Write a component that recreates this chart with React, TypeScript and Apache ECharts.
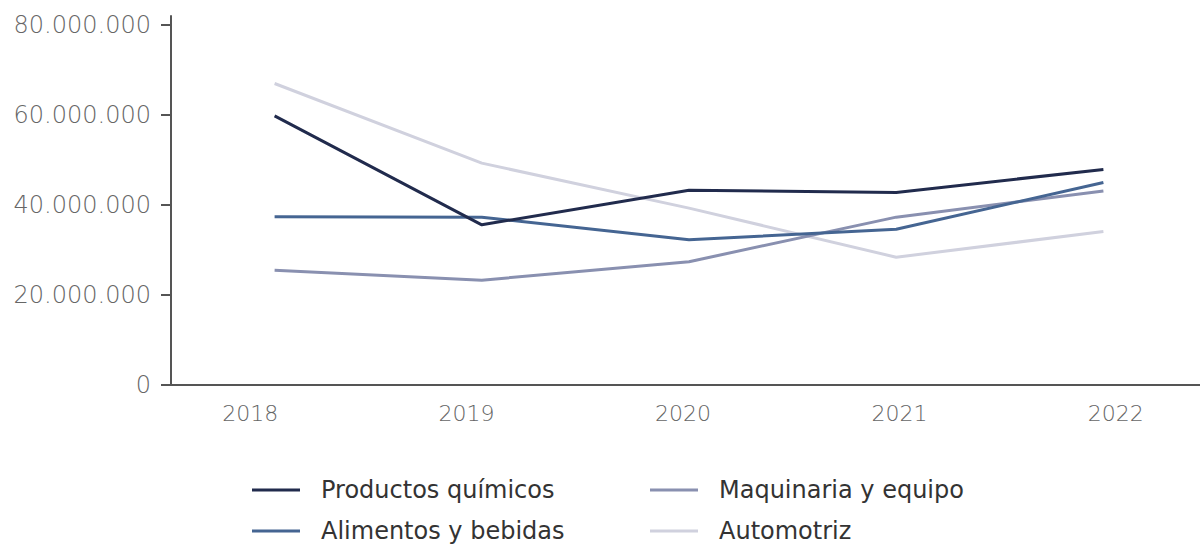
import React, { useEffect, useRef } from "react";
import * as echarts from "echarts";

const years = ["2018", "2019", "2020", "2021", "2022"];
const productosQuimicos = [59800000, 35600000, 43300000, 42800000, 47900000];
const alimentosBebidas = [37400000, 37300000, 32300000, 34600000, 45000000];
const maquinariaEquipo = [25500000, 23300000, 27400000, 37300000, 43100000];
const automotriz = [67000000, 49300000, 39300000, 28400000, 34100000];
const yTicks = [0, 20000000, 40000000, 60000000, 80000000];

const seriesNames = ["Productos químicos", "Alimentos y bebidas", "Maquinaria y equipo", "Automotriz"];
const seriesColors = ["#212b4d", "#456592", "#8990b0", "#d0d1de"];

const FONT = "DejaVu Sans";

function fmt(v: number) {
  return String(Math.round(v)).replace(/\B(?=(\d{3})+(?!\d))/g, ".");
}

const legendPos = [
  { left: 247, top: 472 },
  { left: 247, top: 513 },
  { left: 645, top: 472 },
  { left: 645, top: 513 },
];

export default function App() {
  const ref = useRef<HTMLDivElement>(null);
  useEffect(() => {
    if (!ref.current) return;
    const chart = echarts.init(ref.current, null, { renderer: "svg" });
    const dataSets = [productosQuimicos, alimentosBebidas, maquinariaEquipo, automotriz];
    chart.setOption({
      animation: false,
      backgroundColor: "#ffffff",
      grid: [
        { left: 171, width: 1036, top: 16, height: 369, outerBoundsMode: "none", containLabel: false },
        { left: 142, width: 1082, top: 16, height: 369, outerBoundsMode: "none", containLabel: false },
      ],
      xAxis: [
        {
          type: "category",
          gridIndex: 0,
          data: years,
          boundaryGap: true,
          axisLine: { lineStyle: { color: "#555555", width: 2 } },
          axisTick: { show: false },
          axisLabel: { show: false },
          splitLine: { show: false },
        },
        {
          type: "category",
          gridIndex: 1,
          data: years,
          boundaryGap: true,
          axisLine: { show: false },
          axisTick: { show: false },
          axisLabel: {
            margin: 17,
            color: "#666666",
            fontFamily: FONT,
            fontWeight: 200,
            fontSize: 22,
          },
        },
      ],
      yAxis: [
        {
          type: "value",
          gridIndex: 0,
          min: 0,
          max: 82000000,
          axisLine: { show: true, lineStyle: { color: "#555555", width: 2 } },
          axisTick: {
            show: true,
            length: 10,
            lineStyle: { color: "#555555", width: 2 },
            customValues: yTicks,
          },
          axisLabel: {
            margin: 20,
            color: "#666666",
            fontFamily: FONT,
            fontWeight: 200,
            fontSize: 24,
            customValues: yTicks,
            formatter: (v: number) => fmt(v),
          },
          splitLine: { show: false },
        },
        { type: "value", gridIndex: 1, show: false, min: 0, max: 82000000 },
      ],
      legend: seriesNames.map((n, i) => ({
        left: legendPos[i].left,
        top: legendPos[i].top,
        data: [n],
        icon: "rect",
        itemWidth: 48,
        itemHeight: 3,
        textStyle: { fontFamily: FONT, fontSize: 24, color: "#333333", padding: [0, 0, 0, 16], lineHeight: 26 },
      })),
      series: dataSets.map((d, i) => ({
        name: seriesNames[i],
        type: "line",
        xAxisIndex: 0,
        yAxisIndex: 0,
        data: d,
        showSymbol: false,
        symbol: "none",
        color: seriesColors[i],
        lineStyle: { color: seriesColors[i], width: 3 },
        z: 10 - i,
      })),
    });
    return () => chart.dispose();
  }, []);
  return (
    <div
      ref={ref}
      style={{ position: "absolute", left: 0, top: 0, width: 1200, height: 545, background: "#fff" }}
    />
  );
}
